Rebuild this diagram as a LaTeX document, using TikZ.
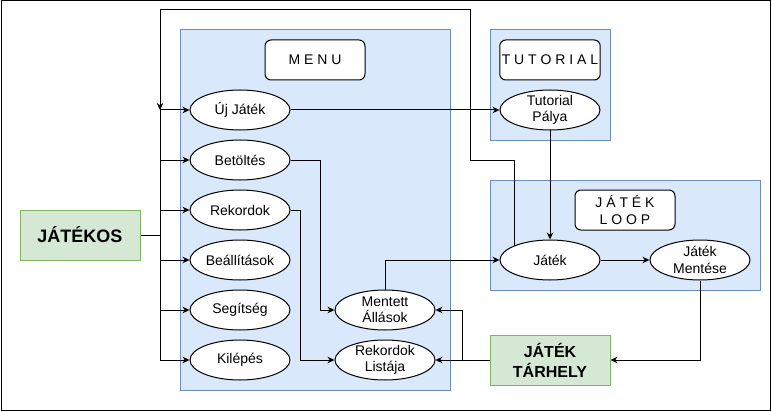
\documentclass[tikz,border=0pt]{standalone}
\usepackage{fontspec}
\setmainfont{Liberation Sans}
\usetikzlibrary{arrows.meta}
\usetikzlibrary{shapes,positioning}
\tikzset{>={Stealth[length=7pt,width=6.5pt]}}
\definecolor{areaFill}{HTML}{DAE8FC}
\definecolor{areaLine}{HTML}{6C8EBF}
\definecolor{storeFill}{HTML}{D5E8D4}
\definecolor{storeLine}{HTML}{82B366}
\tikzset{
  areaBox/.style={draw=areaLine, fill=areaFill, line width=1pt},
  titleBox/.style={draw, fill=white, rounded corners=6pt, line width=1pt, minimum width=100pt, minimum height=40pt, inner sep=2pt, align=center, font=\fontsize{14}{17}\selectfont},
  itemEll/.style={ellipse, draw, fill=white, line width=1pt, minimum width=100pt, minimum height=40pt, inner xsep=0pt, inner ysep=-6pt, align=center, font=\fontsize{14}{16.5}\selectfont},
  storeBox/.style={draw=storeLine, fill=storeFill, line width=1pt, minimum width=120pt, minimum height=50pt, align=center, font=\bfseries\fontsize{16}{20}\selectfont},
  link/.style={line width=1pt}
}

\begin{document}
\begin{tikzpicture}[x=1pt,y=-1pt]
\useasboundingbox (0,0) rectangle (772,412);
\draw[line width=1pt] (1,1) rectangle (770,410);
% areas
\draw[areaBox] (180,30) rectangle (450,390);
\draw[areaBox] (490,30) rectangle (610,140);
\draw[areaBox] (490,180) rectangle (760,290);
\node[titleBox] (menuTitle) at (315,60) {M E N U};
\node[titleBox] (tutTitle) at (550,60) {T U T O R I A L};
\node[titleBox] (loopTitle) at (625,210) {J Á T É K\\L O O P};
% menu
\node[itemEll] (uj) at (240,110) {Új Játék};
\node[itemEll] (betoltes) at (240,160) {Betöltés};
\node[itemEll] (rekordok) at (240,210) {Rekordok};
\node[itemEll] (beallitasok) at (240,260) {Beállítások};
\node[itemEll] (segitseg) at (240,310) {Segítség};
\node[itemEll] (kilepes) at (240,360) {Kilépés};
\node[itemEll] (mentett) at (385,310) {Mentett\\Állások};
\node[itemEll] (listaja) at (385,360) {Rekordok\\Listája};
% game
\node[itemEll] (tutPalya) at (550,110) {Tutorial\\Pálya};
\node[itemEll] (jatek) at (550,260) {Játék};
\node[itemEll] (mentes) at (700,260) {Játék\\Mentése};
\node[storeBox, font=\bfseries\fontsize{18}{21}\selectfont] (jatekos) at (80,235) {JÁTÉKOS};
\node[storeBox] (tarhely) at (550,360) {JÁTÉK\\TÁRHELY};
\coordinate (split) at (160,235);
\coordinate (join) at (160,110);
\coordinate (tb) at (462,360);
% connectors
\draw[link] (jatekos) -- (split);
\draw[link,->] (split) |- (uj);
\draw[link,->] (split) |- (betoltes);
\draw[link,->] (split) |- (rekordok);
\draw[link,->] (split) |- (beallitasok);
\draw[link,->] (split) |- (segitseg);
\draw[link,->] (split) |- (kilepes);
\draw[link,->] (uj) -- (tutPalya);
\draw[link,->] (tutPalya) -- (jatek);
\draw[link,->] (jatek) -- (mentes);
\draw[link,->] (jatek.158) |- (470,160) |- (160,10) -- (join);
\draw[link,->] (mentett) |- (jatek);
\draw[link,->] (mentes) |- (tarhely);
\draw[link,->] (tarhely) -- (listaja);
\draw[link,->] (tb) |- (mentett);
\draw[link,->] (betoltes) -| (320,310) -- (mentett);
\draw[link,->] (rekordok) -| (300,360) -- (listaja);
\end{tikzpicture}
\end{document}
